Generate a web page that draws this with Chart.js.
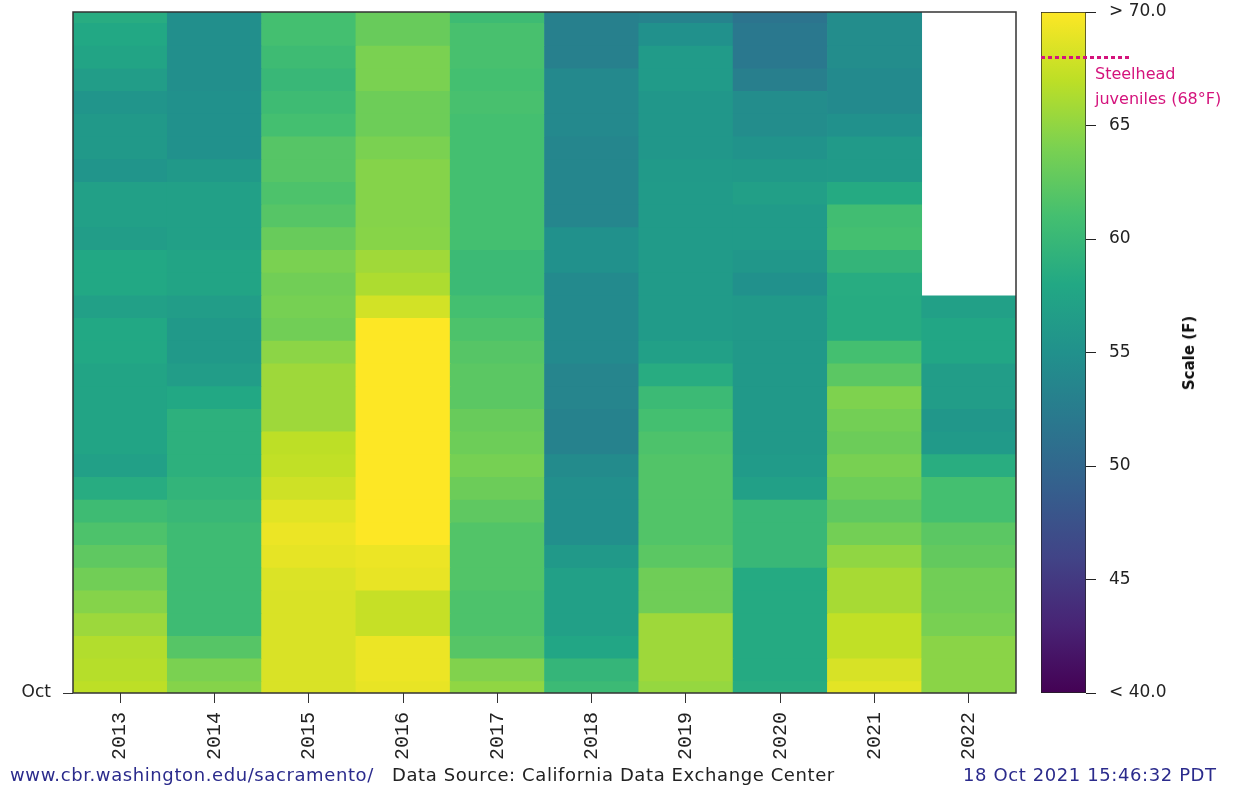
<!DOCTYPE html>
<html lang="en">
<head>
    <meta charset="UTF-8">
    <title>Sacramento water temperature - October</title>
    <script src="https://cdn.jsdelivr.net/npm/chart.js"></script>
    <style>
        * { margin: 0; padding: 0; box-sizing: border-box; }

        body {
            width: 1236px;
            height: 790px;
            background: #fff;
            position: relative;
            overflow: hidden;
            font-family: 'DejaVu Sans', sans-serif;
        }

        #main-wrap { position: absolute; left: 0; top: 0; width: 1236px; height: 790px; }
        #bar-wrap { position: absolute; left: 1020px; top: 0; width: 216px; height: 790px; }

        .note {
            position: absolute;
            left: 1095px;
            color: #d4137c;
            font-size: 16px;
            white-space: nowrap;
        }

        .scale-title {
            position: absolute;
            left: 1189px;
            top: 353px;
            transform: translate(-50%, -50%) rotate(-90deg);
            font-weight: bold;
            font-size: 15px;
            color: #111;
            white-space: nowrap;
        }

        .footer {
            position: absolute;
            top: 764px;
            font-size: 18px;
            white-space: nowrap;
            letter-spacing: 0.6px;
        }
        .footer.link { left: 10px; color: #2b2b8c; }
        .footer.src { left: 392px; color: #222; }
        .footer.date { left: 963px; color: #2b2b8c; }
    </style>
</head>
<body>
    <div id="main-wrap"><canvas id="heatChart" width="1236" height="790"></canvas></div>
    <div id="bar-wrap"><canvas id="scaleChart" width="216" height="790"></canvas></div>

    <div class="note" style="top: 64px;">Steelhead</div>
    <div class="note" style="top: 89px;">juveniles (68°F)</div>
    <div class="scale-title">Scale (F)</div>

    <div class="footer link">www.cbr.washington.edu/sacramento/</div>
    <div class="footer src">Data Source: California Data Exchange Center</div>
    <div class="footer date">18 Oct 2021 15:46:32 PDT</div>

    <script>
// years along the bottom
const years = ['2013', '2014', '2015', '2016', '2017', '2018', '2019', '2020', '2021', '2022'];

// daily temperature (F), Oct 1 first ... Oct 31 last
const t2013 = [67, 66.7, 66.5, 65.5, 64.5, 63.5, 62.5, 61.5, 60.5, 58.5, 57, 57.5, 57.5, 57.5, 57.5, 58, 58, 57, 58, 58, 56.5, 57, 57, 55.5, 56, 56, 55.5, 56.5, 57.5, 58, 58.5];
const t2014 = [64.5, 64, 62, 60.5, 60.5, 60.5, 60.5, 60.5, 60, 59.5, 59, 59, 59, 58, 56.5, 56, 56, 56.5, 57.5, 57.5, 57, 57, 57, 56, 55, 55, 55, 54.8, 54.8, 54.8, 54.8];
const t2015 = [68.3, 68.3, 68.3, 68.3, 68.3, 68.4, 68.9, 69.2, 68.7, 67.8, 67.2, 67, 65.6, 65.6, 65.6, 64.8, 63.5, 63.8, 63.5, 64, 63, 62, 61.5, 62, 62, 61, 60.5, 60, 60.5, 61, 61];
const t2016 = [69, 69.2, 69.2, 67.4, 67.4, 69, 69.2, 71, 71, 71, 71, 71, 71, 71, 71, 71, 71, 68, 66.3, 65.7, 64.6, 64.5, 64.5, 64.5, 64, 63.3, 63.3, 64, 64, 63, 63];
const t2017 = [65, 64.3, 62, 61.5, 61.5, 61.8, 61.8, 61.8, 62.5, 63.2, 63.8, 63.3, 63, 62.3, 62.3, 62, 61.5, 61, 60.3, 60.3, 61, 61, 61, 61, 61, 61, 61.2, 61, 61.2, 61.2, 60.5];
const t2018 = [60.3, 59.7, 57.8, 57, 57, 57, 56, 54.7, 54.7, 54.7, 54.3, 53.2, 53.2, 53.5, 53.5, 54.2, 54.2, 54.2, 54.2, 55, 55, 53.7, 53.7, 53.7, 53.7, 54, 54, 54, 53, 53, 53];
const t2019 = [65.2, 65.6, 65.6, 65.6, 63.4, 63.4, 62.3, 61.8, 61.8, 61.8, 61.8, 61.5, 61, 60.3, 58.5, 57, 56.3, 56.3, 56.3, 56.3, 56.3, 56.3, 56.3, 56.2, 55.8, 55.8, 55.8, 56.3, 56.3, 55, 53.3];
const t2020 = [58.5, 58.3, 58.3, 58.3, 58.3, 58.3, 60, 60, 60, 57, 56.3, 56, 56, 56, 56, 56, 56, 56, 55, 55.8, 56.3, 56.3, 56.8, 56, 55.3, 54.5, 54.5, 52.8, 52, 52, 51.5];
const t2021 = [68.8, 68.2, 67.2, 67.2, 66, 66, 65, 63.6, 62.5, 63.3, 63.9, 63.2, 63.6, 64.2, 62.3, 61, 58.4, 58.4, 58.5, 59.6, 61, 60.7, 58.3, 56.2, 56.2, 55, 54.2, 54.2, 54.5, 54.5, 54.5];
const t2022 = [64.7, 64.7, 64.7, 63.9, 63.5, 63.5, 62.7, 62.3, 61, 61, 58.6, 56.2, 55.8, 56.5, 56.5, 57.7, 57.7, 57];

// colour scale limits and ticks
const scaleMin = 40;
const scaleMax = 70;
const scaleTicks = [40, 45, 50, 55, 60, 65, 70];
const steelhead = 68;

const columns = [t2013, t2014, t2015, t2016, t2017, t2018, t2019, t2020, t2021, t2022];
const dayCount = 31;

// viridis, 11 evenly spaced stops
const viridisStops = ['#440154', '#482475', '#414487', '#355f8d', '#2a788e', '#21918c',
                      '#22a884', '#44bf70', '#7ad151', '#bddf26', '#fde725'];

function hexToRgb(h) {
    return [parseInt(h.slice(1, 3), 16), parseInt(h.slice(3, 5), 16), parseInt(h.slice(5, 7), 16)];
}

function viridis(v) {
    let t = (v - scaleMin) / (scaleMax - scaleMin);
    t = Math.max(0, Math.min(1, t));
    const pos = t * (viridisStops.length - 1);
    const i = Math.min(Math.floor(pos), viridisStops.length - 2);
    const f = pos - i;
    const a = hexToRgb(viridisStops[i]);
    const b = hexToRgb(viridisStops[i + 1]);
    const c = a.map((x, k) => Math.round(x + (b[k] - x) * f));
    return 'rgb(' + c.join(',') + ')';
}

// one dataset per day, one floating bar per year
const datasets = [];
for (let d = 1; d <= dayCount; d++) {
    datasets.push({
        label: 'Oct ' + d,
        data: columns.map(col => {
            const v = col[d - 1];
            if (v === undefined || v === null) return null;
            return [Math.max(1, d - 0.5), Math.min(dayCount, d + 0.5)];
        }),
        backgroundColor: columns.map(col => {
            const v = col[d - 1];
            return (v === undefined || v === null) ? 'rgba(0,0,0,0)' : viridis(v);
        }),
        borderWidth: 0,
        barPercentage: 1,
        categoryPercentage: 1
    });
}

const frame = {
    id: 'frame',
    afterDatasetsDraw(chart) {
        const a = chart.chartArea;
        const c = chart.ctx;
        c.save();
        c.strokeStyle = '#333';
        c.lineWidth = 1.5;
        c.strokeRect(a.left, a.top, a.right - a.left, a.bottom - a.top);
        c.restore();
    }
};

new Chart(document.getElementById('heatChart'), {
    type: 'bar',
    data: { labels: years, datasets: datasets },
    options: {
        responsive: false,
        animation: false,
        layout: { padding: { left: 0, top: 12, right: 220, bottom: 0 } },
        plugins: { legend: { display: false }, tooltip: { enabled: false } },
        scales: {
            x: {
                stacked: true,
                offset: true,
                border: { display: false },
                grid: { offset: false, drawOnChartArea: false, drawTicks: true, tickLength: 10, color: '#333' },
                ticks: {
                    minRotation: 90,
                    maxRotation: 90,
                    padding: 9,
                    color: '#222',
                    font: { family: 'Liberation Mono', size: 20 }
                },
                afterFit: s => { s.height = 97; s.paddingLeft = 0; s.paddingRight = 0; }
            },
            y: {
                min: 1,
                max: dayCount,
                border: { display: false },
                grid: { drawOnChartArea: false, drawTicks: true, tickLength: 10, color: '#333' },
                afterBuildTicks: s => { s.ticks = [{ value: 1 }]; },
                ticks: {
                    padding: 12,
                    color: '#222',
                    font: { family: 'DejaVu Sans', size: 17 },
                    callback: () => 'Oct'
                },
                afterFit: s => { s.width = 73; s.paddingTop = 0; s.paddingBottom = 0; }
            }
        }
    },
    plugins: [frame]
});

// colour bar
const steelheadLine = {
    id: 'steelheadLine',
    afterDraw(chart) {
        const y = chart.scales.y.getPixelForValue(steelhead);
        const c = chart.ctx;
        c.save();
        c.strokeStyle = '#d4137c';
        c.lineWidth = 3;
        c.setLineDash([4, 3]);
        c.beginPath();
        c.moveTo(chart.chartArea.left, y);
        c.lineTo(chart.chartArea.left + 88, y);
        c.stroke();
        c.restore();
    }
};

new Chart(document.getElementById('scaleChart'), {
    type: 'bar',
    data: {
        labels: ['scale'],
        datasets: [{
            data: [[scaleMin, scaleMax]],
            backgroundColor: ctx => {
                const area = ctx.chart.chartArea;
                if (!area) return viridisStops[5];
                const g = ctx.chart.ctx.createLinearGradient(0, area.bottom, 0, area.top);
                viridisStops.forEach((col, i) => g.addColorStop(i / (viridisStops.length - 1), col));
                return g;
            },
            borderColor: '#222',
            borderWidth: 1,
            borderSkipped: false,
            barPercentage: 1,
            categoryPercentage: 1
        }]
    },
    options: {
        responsive: false,
        animation: false,
        layout: { padding: { left: 21, top: 12, right: 0, bottom: 97 } },
        plugins: { legend: { display: false }, tooltip: { enabled: false } },
        scales: {
            x: { display: false },
            y: {
                position: 'right',
                min: scaleMin,
                max: scaleMax,
                border: { display: false },
                grid: { drawOnChartArea: false, drawTicks: true, tickLength: 10, color: '#222' },
                afterBuildTicks: s => { s.ticks = scaleTicks.map(v => ({ value: v })); },
                ticks: {
                    padding: 13,
                    color: '#222',
                    font: { family: 'DejaVu Sans', size: 17 },
                    callback: v => v === scaleMax ? '> 70.0' : (v === scaleMin ? '< 40.0' : String(v))
                },
                afterFit: s => { s.width = 150; s.paddingTop = 0; s.paddingBottom = 0; }
            }
        }
    },
    plugins: [steelheadLine]
});
    </script>
</body>
</html>
